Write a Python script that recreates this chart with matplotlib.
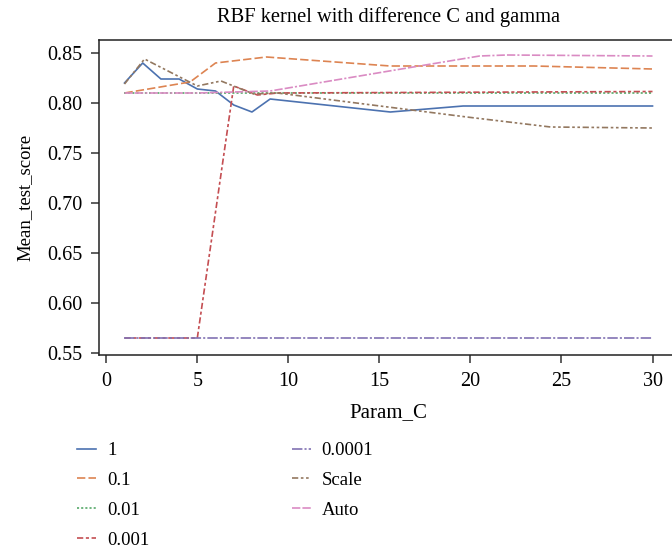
import matplotlib
matplotlib.use("Agg")
import matplotlib.pyplot as plt

# ============================================
# Data
# ============================================

g1_x = [1, 2, 3, 4, 5, 6, 7, 8, 9, 15.6, 19.6, 30]
g1_y = [0.820, 0.840, 0.824, 0.824, 0.814, 0.812, 0.798, 0.791, 0.804, 0.791, 0.797, 0.797]

g01_x = [1, 4.6, 6, 8.8, 15.6, 23.5, 30]
g01_y = [0.810, 0.821, 0.840, 0.846, 0.837, 0.837, 0.834]

g001_x = [1, 8, 30]
g001_y = [0.810, 0.810, 0.810]

g0001_x = [1, 5, 7, 8.3, 9.4, 30]
g0001_y = [0.565, 0.565, 0.817, 0.808, 0.810, 0.8115]

g00001_x = [1, 30]
g00001_y = [0.565, 0.565]

scale_x = [1, 2.1, 5, 6.3, 8.1, 9.4, 19.8, 24.4, 30]
scale_y = [0.819, 0.844, 0.817, 0.822, 0.809, 0.810, 0.786, 0.776, 0.775]

auto_x = [1, 5, 9, 16.2, 20.5, 22, 30]
auto_y = [0.810, 0.810, 0.812, 0.834, 0.847, 0.848, 0.847]

labels = ["1", "0.1", "0.01", "0.001", "0.0001", "Scale", "Auto"]
xs = [g1_x, g01_x, g001_x, g0001_x, g00001_x, scale_x, auto_x]
ys = [g1_y, g01_y, g001_y, g0001_y, g00001_y, scale_y, auto_y]

# seaborn "deep" palette and seaborn style dashes
colors = ["#4C72B0", "#DD8452", "#55A868", "#C44E52", "#8172B3", "#937860", "#DA8BC3"]
dashes = [
    None,
    (4, 1.5),
    (1, 1),
    (3, 1.25, 1.5, 1.25),
    (5, 1, 1, 1),
    (3, 1.25, 1.25, 1.25, 1.25, 1.25),
    (4, 1, 4, 1, 1, 1),
]

# ============================================
# Plot
# ============================================

plt.rcParams["font.family"] = ["Liberation Serif", "DejaVu Serif"]
plt.rcParams["font.size"] = 14.5
plt.rcParams["lines.scale_dashes"] = False

fig = plt.figure(figsize=(6.72, 5.54), dpi=100)
ax = fig.add_axes([99 / 672, 1 - 355 / 554, 579 / 672, 315 / 554])

lw = 1.2
for x, y, lab, c, d in zip(xs, ys, labels, colors, dashes):
    line, = ax.plot(x, y, color=c, lw=lw, label=lab)
    if d is not None:
        line.set_dashes([v * 1.5 for v in d])

ax.set_xlim(-0.4, 31.4)
ax.set_ylim(0.548, 0.863)
ax.set_xticks([0, 5, 10, 15, 20, 25, 30])
ax.set_yticks([0.55, 0.60, 0.65, 0.70, 0.75, 0.80, 0.85])
ax.set_yticklabels(["0.55", "0.60", "0.65", "0.70", "0.75", "0.80", "0.85"])

ax.spines["right"].set_visible(False)
for s in ["left", "top", "bottom"]:
    ax.spines[s].set_color("#222222")
    ax.spines[s].set_linewidth(1.1)
ax.tick_params(direction="out", length=6, width=1.1, pad=6, color="#333333")

ax.set_title("RBF kernel with difference C and gamma", fontsize=14.8, pad=13)
ax.set_xlabel("Param_C", fontsize=15, labelpad=9)
ax.set_ylabel("Mean_test_score", fontsize=13.5, labelpad=10)

fig.legend(
    loc="upper left",
    bbox_to_anchor=(77 / 672, 1 - 442 / 554),
    ncol=2,
    frameon=False,
    fontsize=13.5,
    borderpad=0,
    borderaxespad=0,
    handlelength=1.0,
    handletextpad=0.6,
    labelspacing=0.68,
    columnspacing=7.6,
)

fig.savefig("out.png", dpi=100)
